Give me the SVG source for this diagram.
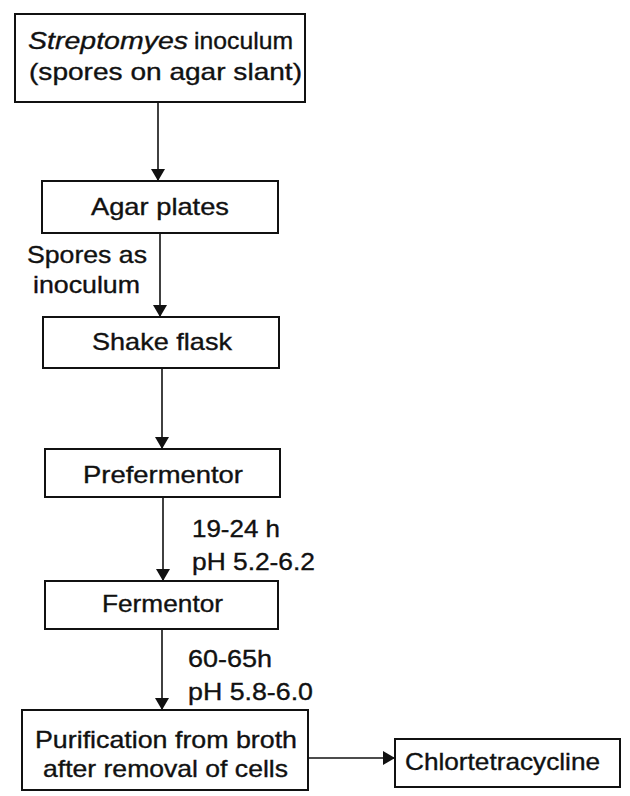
<svg xmlns="http://www.w3.org/2000/svg" width="630" height="796" viewBox="0 0 630 796">
<style>
.box{fill:#fff;stroke:#111;stroke-width:2}
.t{font-family:"Liberation Sans",Arial,sans-serif;font-size:24px;fill:#111;stroke:#111;stroke-width:0.35}
.c{stroke:#111;stroke-width:1.6;fill:none}
</style>
<defs>
<marker id="ah" markerUnits="userSpaceOnUse" markerWidth="12" markerHeight="14" viewBox="0 0 12 14" refX="12" refY="7" orient="auto">
<path d="M0,0 L12,7 L0,14 Z" fill="#111"/>
</marker>
</defs>
<rect width="630" height="796" fill="#fff"/>
<g id="connectors">
<line class="c" x1="158" y1="102" x2="158" y2="181" marker-end="url(#ah)"/>
<line class="c" x1="160" y1="233" x2="160" y2="317" marker-end="url(#ah)"/>
<line class="c" x1="162" y1="368" x2="162" y2="449" marker-end="url(#ah)"/>
<line class="c" x1="163" y1="497" x2="163" y2="581" marker-end="url(#ah)"/>
<line class="c" x1="162" y1="629" x2="162" y2="710" marker-end="url(#ah)"/>
<line class="c" x1="308" y1="758" x2="395" y2="758" marker-end="url(#ah)"/>
<text class="t" x="27" y="263" textLength="120" lengthAdjust="spacingAndGlyphs">Spores as</text>
<text class="t" x="33" y="293" textLength="107" lengthAdjust="spacingAndGlyphs">inoculum</text>
<text class="t" x="192" y="537" textLength="88" lengthAdjust="spacingAndGlyphs">19-24 h</text>
<text class="t" x="192" y="570" textLength="123" lengthAdjust="spacingAndGlyphs">pH 5.2-6.2</text>
<text class="t" x="188" y="667" textLength="84" lengthAdjust="spacingAndGlyphs">60-65h</text>
<text class="t" x="188" y="700" textLength="125" lengthAdjust="spacingAndGlyphs">pH 5.8-6.0</text>
</g>
<g id="inoculum">
<rect class="box" x="15" y="14" width="290" height="88"/>
<text class="t" x="28" y="49" font-style="italic" textLength="160" lengthAdjust="spacingAndGlyphs">Streptomyes</text>
<text class="t" x="194" y="49" textLength="99" lengthAdjust="spacingAndGlyphs">inoculum</text>
<text class="t" x="29" y="80" textLength="273" lengthAdjust="spacingAndGlyphs">(spores on agar slant)</text>
</g>
<g id="agar-plates">
<rect class="box" x="42" y="181" width="236" height="52"/>
<text class="t" x="91" y="215" font-size="26" textLength="138" lengthAdjust="spacingAndGlyphs">Agar plates</text>
</g>
<g id="shake-flask">
<rect class="box" x="43" y="317" width="236" height="51"/>
<text class="t" x="92" y="350" font-size="26" textLength="140" lengthAdjust="spacingAndGlyphs">Shake flask</text>
</g>
<g id="prefermentor">
<rect class="box" x="45" y="449" width="235" height="48"/>
<text class="t" x="83" y="483" font-size="26" textLength="160" lengthAdjust="spacingAndGlyphs">Prefermentor</text>
</g>
<g id="fermentor">
<rect class="box" x="45" y="581" width="233" height="48"/>
<text class="t" x="102" y="612" textLength="121" lengthAdjust="spacingAndGlyphs">Fermentor</text>
</g>
<g id="purification">
<rect class="box" x="22" y="710" width="286" height="80"/>
<text class="t" x="35" y="748" textLength="262" lengthAdjust="spacingAndGlyphs">Purification from broth</text>
<text class="t" x="43" y="777" textLength="245" lengthAdjust="spacingAndGlyphs">after removal of cells</text>
</g>
<g id="chlortetracycline">
<rect class="box" x="395" y="739" width="225" height="48"/>
<text class="t" x="405" y="770" textLength="195" lengthAdjust="spacingAndGlyphs">Chlortetracycline</text>
</g>
</svg>
